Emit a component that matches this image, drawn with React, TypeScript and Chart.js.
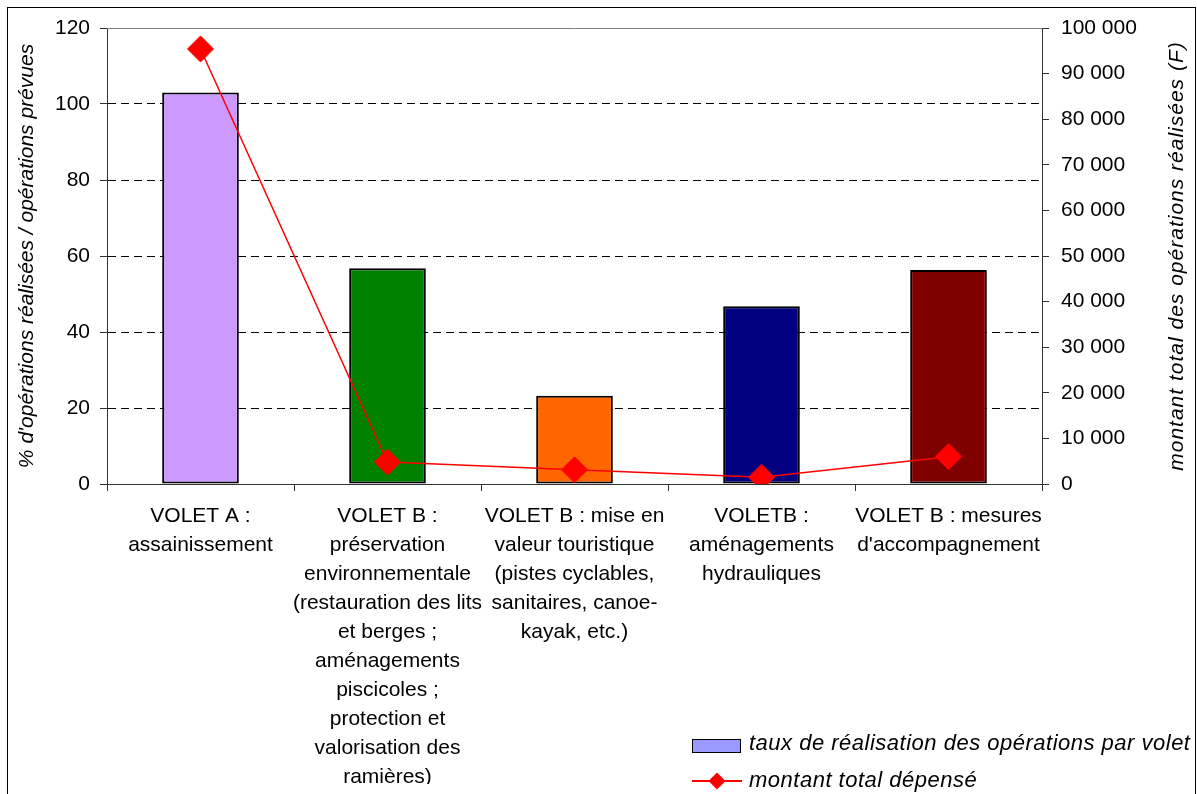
import React, { useEffect, useRef } from 'react';
import { Chart, registerables } from 'chart.js';

Chart.register(...registerables);

const FONT = "'Liberation Sans', Arial, sans-serif";

const categories: string[][] = [
  ['VOLET A :', 'assainissement'],
  ['VOLET B :', 'préservation', 'environnementale', '(restauration des lits', 'et berges ;', 'aménagements', 'piscicoles ;', 'protection et', 'valorisation des', 'ramières)'],
  ['VOLET B : mise en', 'valeur touristique', '(pistes cyclables,', 'sanitaires, canoe-', 'kayak, etc.)'],
  ['VOLETB :', 'aménagements', 'hydrauliques'],
  ['VOLET B : mesures', "d'accompagnement"],
];

const tauxRealisation: number[] = [103, 56.8, 23.2, 46.8, 56.3];
const montantDepense: number[] = [95400, 4800, 3100, 1500, 6000];
const barColors: string[] = ['#CC99FF', '#008000', '#FF6600', '#000080', '#800000'];

const leftAxis = { min: 0, max: 120, step: 20 };
const rightAxis = { min: 0, max: 100000, step: 10000 };

const leftAxisTitle = "% d'opérations réalisées / opérations prévues";
const rightAxisTitle = 'montant total des opérations réalisées (F)';
const legendBarLabel = 'taux de réalisation des opérations par volet';
const legendLineLabel = 'montant total dépensé';

const formatThousands = (v: number) => String(v).replace(/\B(?=(\d{3})+(?!\d))/g, ' ');

const framePlugin = {
  id: 'frame',
  beforeDraw(chart: any) {
    const ctx = chart.ctx;
    ctx.save();
    ctx.fillStyle = '#ffffff';
    ctx.fillRect(0, 0, chart.width, chart.height);
    ctx.strokeStyle = '#000000';
    ctx.lineWidth = 1;
    ctx.strokeRect(7.5, 7.5, 1188, 820);
    ctx.restore();
  },
  beforeDatasetsDraw(chart: any) {
    const { ctx, chartArea } = chart;
    const y = Math.round(chart.scales.y.getPixelForValue(leftAxis.max)) + 0.5;
    ctx.save();
    ctx.strokeStyle = '#808080';
    ctx.lineWidth = 1;
    ctx.beginPath();
    ctx.moveTo(chartArea.left, y);
    ctx.lineTo(chartArea.right, y);
    ctx.stroke();
    ctx.restore();
  },
  afterDraw(chart: any) {
    const ctx = chart.ctx;
    const s = chart.scales.y1;
    ctx.save();
    ctx.translate(1177, (s.top + s.bottom) / 2);
    ctx.rotate(-Math.PI / 2);
    ctx.font = `italic 21px ${FONT}`;
    try {
      (ctx as any).letterSpacing = '1px';
    } catch (e) {
      /* ignore */
    }
    ctx.fillStyle = '#000';
    ctx.textAlign = 'center';
    ctx.textBaseline = 'middle';
    ctx.fillText(rightAxisTitle, 0, 0);
    ctx.restore();
  },
};

export default function App() {
  const canvasRef = useRef<HTMLCanvasElement | null>(null);

  useEffect(() => {
    if (!canvasRef.current) return;
    const chart = new Chart(canvasRef.current, {
      type: 'bar',
      data: {
        labels: categories as any,
        datasets: [
          {
            type: 'line',
            label: legendLineLabel,
            data: montantDepense,
            yAxisID: 'y1',
            borderColor: '#FF0000',
            borderWidth: 1.5,
            backgroundColor: '#FF0000',
            pointStyle: 'rectRot',
            pointRadius: 13,
            pointBackgroundColor: '#FF0000',
            pointBorderColor: '#FF0000',
            pointBorderWidth: 1,
            tension: 0,
            order: 0,
          } as any,
          {
            type: 'bar',
            label: legendBarLabel,
            data: tauxRealisation,
            yAxisID: 'y',
            backgroundColor: barColors,
            borderColor: '#000000',
            borderWidth: 2,
            borderSkipped: false,
            barPercentage: 0.41,
            categoryPercentage: 1,
            order: 1,
          } as any,
        ],
      },
      options: {
        animation: false,
        responsive: false,
        maintainAspectRatio: false,
        layout: { padding: { left: 8, right: 6, top: 28, bottom: 10 } },
        plugins: {
          legend: { display: false },
          tooltip: { enabled: false },
        },
        scales: {
          x: {
            type: 'category',
            offset: true,
            grid: {
              offset: true,
              drawOnChartArea: false,
              drawTicks: true,
              tickLength: 7,
              tickColor: '#333333',
            },
            border: { color: '#333333', width: 1 },
            ticks: {
              autoSkip: false,
              maxRotation: 0,
              minRotation: 0,
              padding: 11,
              color: '#000000',
              font: { family: FONT, size: 21, lineHeight: '29px' as any },
            },
            afterFit: (s: any) => {
              s.height = 300;
            },
          },
          y: {
            position: 'left',
            min: leftAxis.min,
            max: leftAxis.max,
            ticks: {
              stepSize: leftAxis.step,
              padding: 10,
              color: '#000000',
              font: { family: FONT, size: 21 },
            },
            grid: {
              color: (c: any) =>
                c.tick && (c.tick.value === leftAxis.min || c.tick.value === leftAxis.max)
                  ? 'rgba(0,0,0,0)'
                  : '#000000',
              lineWidth: 1,
              drawTicks: true,
              tickLength: 7,
              tickColor: '#333333',
            },
            border: { color: '#333333', width: 1, dash: [8, 5] },
            title: {
              display: true,
              text: leftAxisTitle,
              color: '#000000',
              font: { family: FONT, size: 21, style: 'italic' },
              padding: { top: 7, bottom: 0 },
            },
            afterFit: (s: any) => {
              s.width = 99;
            },
          },
          y1: {
            position: 'right',
            min: rightAxis.min,
            max: rightAxis.max,
            ticks: {
              stepSize: rightAxis.step,
              padding: 12,
              color: '#000000',
              font: { family: FONT, size: 21 },
              callback: (v: any) => formatThousands(Number(v)),
            },
            grid: {
              drawOnChartArea: false,
              drawTicks: true,
              tickLength: 7,
              tickColor: '#333333',
            },
            border: { color: '#333333', width: 1 },
            afterFit: (s: any) => {
              s.width = 149;
            },
          },
        },
      } as any,
      plugins: [framePlugin],
    });
    return () => chart.destroy();
  }, []);

  const legendText: React.CSSProperties = {
    position: 'absolute',
    left: 749,
    fontFamily: FONT,
    fontStyle: 'italic',
    fontSize: 22,
    lineHeight: '26px',
    letterSpacing: '0.5px',
    color: '#000',
    whiteSpace: 'nowrap',
  };

  return (
    <div style={{ position: 'fixed', left: 0, top: 0, width: 1197, height: 794, background: '#fff', overflow: 'hidden' }}>
      <canvas ref={canvasRef} width={1197} height={794} style={{ display: 'block', width: 1197, height: 794 }} />
      <div
        style={{
          position: 'absolute',
          left: 692,
          top: 739,
          width: 49,
          height: 14,
          boxSizing: 'border-box',
          background: '#9999FF',
          border: '1px solid #000',
        }}
      />
      <div style={{ ...legendText, top: 730 }}>{legendBarLabel}</div>
      <div style={{ position: 'absolute', left: 692, top: 780, width: 50, height: 2, background: '#FF0000' }} />
      <div
        style={{
          position: 'absolute',
          left: 711,
          top: 775,
          width: 12,
          height: 12,
          background: '#FF0000',
          transform: 'rotate(45deg)',
        }}
      />
      <div style={{ ...legendText, top: 767 }}>{legendLineLabel}</div>
    </div>
  );
}
